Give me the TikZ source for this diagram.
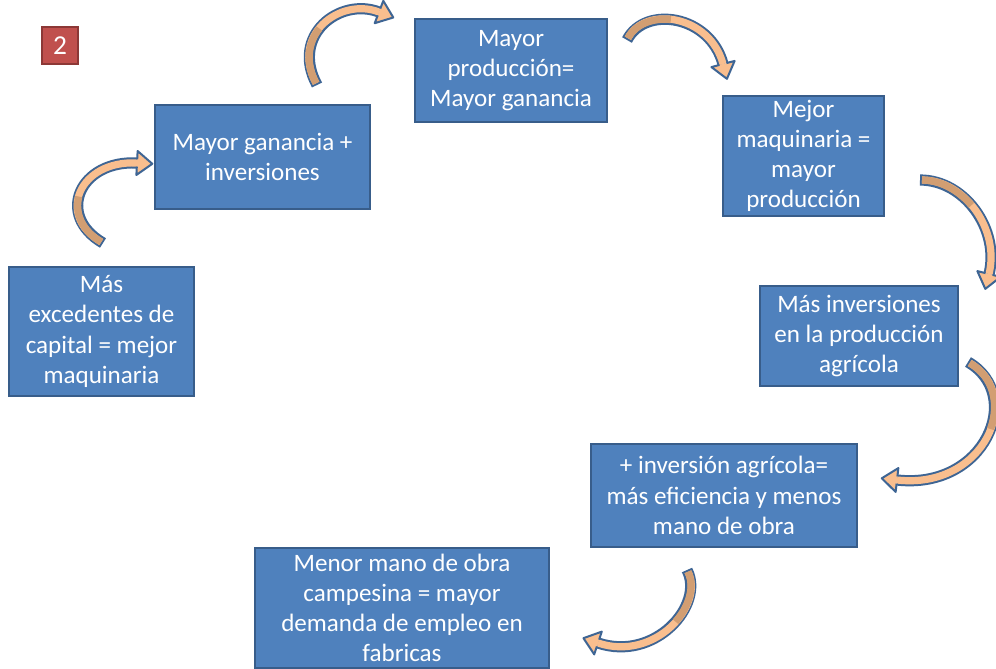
\documentclass[tikz,border=0pt]{standalone}
\usepackage{fontspec}
\setmainfont{Carlito}
\usetikzlibrary{calc}
\definecolor{boxfill}{HTML}{4F81BD}
\definecolor{boxline}{HTML}{385D8A}
\definecolor{redfill}{HTML}{C0504D}
\definecolor{redline}{HTML}{8C3836}
\definecolor{arrowline}{HTML}{3E6594}
\definecolor{arrowfill}{HTML}{F9BE8E}
\definecolor{arrowdark}{HTML}{D29E72}
% #1 start, #2 control 1, #3 control 2, #4 end (head base)
\newcommand\curvedarrow[4]{%
  \draw[line width=8.4pt, arrowline] (#1) .. controls (#2) and (#3) .. (#4);
  \draw[line width=5.4pt, arrowfill, shorten <=1.5pt] (#1) .. controls (#2) and (#3) .. (#4);
  \coordinate (q0) at ($(#1)!0.45!(#2)$);
  \coordinate (q1) at ($(#2)!0.45!(#3)$);
  \coordinate (q2) at ($(#3)!0.45!(#4)$);
  \coordinate (r0) at ($(q0)!0.45!(q1)$);
  \coordinate (r1) at ($(q1)!0.45!(q2)$);
  \coordinate (s0) at ($(r0)!0.45!(r1)$);
  \draw[line width=5.4pt, arrowdark, shorten <=1.5pt] (#1) .. controls (q0) and (r0) .. (s0);
  \fill[arrowfill] ($(#4)!9pt!90:(#3)$) -- ($(#4)!11.5pt!180:(#3)$) -- ($(#4)!9pt!-90:(#3)$) -- cycle;
  \draw[arrowline, line width=1.5pt, line join=round]
    ($(#4)!2.7pt!90:(#3)$) -- ($(#4)!9pt!90:(#3)$) -- ($(#4)!11.5pt!180:(#3)$)
    -- ($(#4)!9pt!-90:(#3)$) -- ($(#4)!2.7pt!-90:(#3)$);
}
\begin{document}
\begin{tikzpicture}[x=0.75pt,y=-0.75pt,
  box/.style={draw=boxline, fill=boxfill, line width=1.5pt, text=white, align=center,
    font=\fontsize{18.8}{22.6}\selectfont, inner sep=0pt}]
\useasboundingbox (0,0) rectangle (996,668);
\fill[white] (0,0) rectangle (996,668);

\node[draw=redline, fill=redfill, line width=1.5pt, text=white, font=\fontsize{20.5}{24}\selectfont,
  minimum width=27pt, minimum height=27.75pt, inner sep=0pt] (num) at (60,45.5) {2};

\node[box, minimum width=161.25pt, minimum height=78pt] (A) at (262.5,157) {Mayor ganancia +\\inversiones};
\node[box, minimum width=144pt, minimum height=77.25pt] (B) at (511,70.5) {Mayor\\producción=\\Mayor ganancia};
\node[box, minimum width=120.75pt, minimum height=90pt] (C) at (803.5,156) {Mejor\\maquinaria =\\mayor\\producción};
\node[box, minimum width=148.5pt, minimum height=75pt] (D) at (859,336) {Más inversiones\\en la producción\\agrícola};
\node[box, minimum width=199.5pt, minimum height=77.25pt] (E) at (724,495.5) {+ inversión agrícola=\\más eficiencia y menos\\mano de obra};
\node[box, minimum width=220.5pt, minimum height=90pt] (F) at (402,608) {Menor mano de obra\\campesina = mayor\\demanda de empleo en\\fabricas};
\node[box, minimum width=138.75pt, minimum height=96.75pt] (G) at (101.5,331.5) {Más\\excedentes de\\capital = mejor\\maquinaria};

\coordinate (g1) at (103,243); \coordinate (g1a) at (55,215);  \coordinate (g1b) at (80,160);  \coordinate (a1) at (137,163);
\coordinate (a2) at (317,85);  \coordinate (a2a) at (290,35);  \coordinate (a2b) at (340,-3);  \coordinate (b2) at (379,12);
\coordinate (b3) at (627,40);  \coordinate (b3a) at (645,5);   \coordinate (b3b) at (710,15);  \coordinate (c3) at (723,64);
\coordinate (c4) at (920,180); \coordinate (c4a) at (965,180); \coordinate (c4b) at (1000,230); \coordinate (d4) at (989,274);
\coordinate (d5) at (968,362); \coordinate (d5a) at (1025,395); \coordinate (d5b) at (985,490); \coordinate (e5) at (897,480);
\coordinate (e6) at (687,570); \coordinate (e6a) at (705,605); \coordinate (e6b) at (655,662); \coordinate (f6) at (598,643);

\curvedarrow{g1}{g1a}{g1b}{a1}
\curvedarrow{a2}{a2a}{a2b}{b2}
\curvedarrow{b3}{b3a}{b3b}{c3}
\curvedarrow{c4}{c4a}{c4b}{d4}
\curvedarrow{d5}{d5a}{d5b}{e5}
\curvedarrow{e6}{e6a}{e6b}{f6}
\end{tikzpicture}
\end{document}
